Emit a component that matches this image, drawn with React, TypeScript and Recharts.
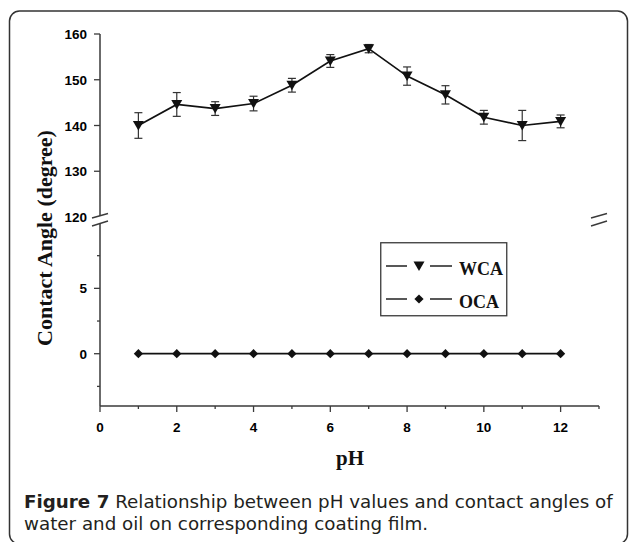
import React from "react";
import { LineChart, Line, XAxis, YAxis, ErrorBar, Legend } from "recharts";

// pH 1..12, water contact angle (with error) and oil contact angle
const PH = [1, 2, 3, 4, 5, 6, 7, 8, 9, 10, 11, 12];
const WCA = [140, 144.6, 143.7, 144.8, 148.8, 154.1, 156.8, 150.8, 146.7, 141.8, 140, 140.9];
const WCA_ERR = [2.8, 2.6, 1.5, 1.6, 1.5, 1.4, 0.9, 2.0, 2.0, 1.5, 3.3, 1.4];
const OCA = [0, 0, 0, 0, 0, 0, 0, 0, 0, 0, 0, 0];

const X_TICKS = [0, 1, 2, 3, 4, 5, 6, 7, 8, 9, 10, 11, 12, 13];
const UPPER_TICKS = [120, 125, 130, 135, 140, 145, 150, 155, 160];
const LOWER_TICKS = [-2.5, 0, 2.5, 5, 7.5];

const SERIES = [
  { key: "wca", name: "WCA", shape: "tri" },
  { key: "oca", name: "OCA", shape: "diamond" },
];

const upperData = PH.map((ph, i) => ({ ph, wca: WCA[i], err: WCA_ERR[i] }));
const lowerData = PH.map((ph, i) => ({ ph, oca: OCA[i] }));

const INK = "#111";
const FRAME = "#3a3a3a";
const TICK_FONT = "'Liberation Sans', Arial, sans-serif";
const SERIF = "'Liberation Serif', 'Times New Roman', serif";

function Marker({ cx, cy, shape }) {
  if (cx == null || cy == null) return null;
  if (shape === "tri") {
    return <polygon points={`${cx - 5.5},${cy - 4.5} ${cx + 5.5},${cy - 4.5} ${cx},${cy + 5}`} fill={INK} />;
  }
  return <polygon points={`${cx},${cy - 4.6} ${cx + 4.6},${cy} ${cx},${cy + 4.6} ${cx - 4.6},${cy}`} fill={INK} />;
}

function YTick({ x, y, payload, step, skip }) {
  const v = payload.value;
  const major = Math.abs(v % step) < 1e-9;
  return (
    <g>
      {v !== skip && <line x1={x - (major ? 6 : 3)} x2={x} y1={y} y2={y} stroke={FRAME} strokeWidth={1.3} />}
      {major && (
        <text x={x - 13} y={y + 5} textAnchor="end" fontFamily={TICK_FONT} fontWeight="bold" fontSize={13.5} fill="#000">
          {v}
        </text>
      )}
    </g>
  );
}

function XTick({ x, y, payload }) {
  const v = payload.value;
  const major = v % 2 === 0;
  return (
    <g>
      <line x1={x} x2={x} y1={y} y2={y + (major ? 6 : 3)} stroke={FRAME} strokeWidth={1.3} />
      {major && (
        <text x={x} y={y + 26} textAnchor="middle" fontFamily={TICK_FONT} fontWeight="bold" fontSize={13.5} fill="#000">
          {v}
        </text>
      )}
    </g>
  );
}

function LegendBox() {
  return (
    <svg width={128} height={75}>
      <rect x={0.75} y={0.75} width={126} height={73} fill="#fff" stroke={FRAME} strokeWidth={1.3} />
      {SERIES.map((s, i) => {
        const ly = 24 + i * 33;
        return (
          <g key={s.key}>
            <line x1={6} x2={27} y1={ly} y2={ly} stroke={INK} strokeWidth={1.4} />
            <line x1={50} x2={72} y1={ly} y2={ly} stroke={INK} strokeWidth={1.4} />
            <Marker cx={39} cy={ly} shape={s.shape} />
            <text x={79} y={ly + 9} fontFamily={SERIF} fontWeight="bold" fontSize={18} fill="#111">
              {s.name}
            </text>
          </g>
        );
      })}
    </svg>
  );
}

const axisLine = { stroke: FRAME, strokeWidth: 1.5 };

export default function App() {
  return (
    <div style={{ position: "absolute", left: 0, top: 0, width: 629, height: 542, background: "#fff", overflow: "hidden" }}>
      <div style={{ position: "absolute", left: 0, top: 0 }}>
        <LineChart width={629} height={240} data={upperData} margin={{ top: 34, right: 30, bottom: 23, left: 40 }}>
          <XAxis dataKey="ph" type="number" domain={[0, 13]} orientation="top" height={0} ticks={X_TICKS} tick={false} tickLine={false} axisLine={axisLine} />
          <YAxis
            type="number"
            domain={[120, 160]}
            ticks={UPPER_TICKS}
            width={60}
            tickSize={0}
            tickMargin={0}
            tickLine={false}
            axisLine={axisLine}
            tick={(p) => <YTick {...p} step={10} skip={120} />}
          />
          <YAxis yAxisId="r" orientation="right" width={0} domain={[120, 160]} tick={false} tickLine={false} axisLine={axisLine} />
          <Line
            dataKey="wca"
            stroke={INK}
            strokeWidth={1.7}
            isAnimationActive={false}
            dot={(p) => <Marker key={`w${p.index}`} cx={p.cx} cy={p.cy} shape="tri" />}
          >
            <ErrorBar dataKey="err" direction="y" width={4} stroke="#333" strokeWidth={1.2} isAnimationActive={false} />
          </Line>
        </LineChart>
      </div>
      <div style={{ position: "absolute", left: 0, top: 0 }}>
        <LineChart width={629} height={542} data={lowerData} margin={{ top: 223, right: 30, bottom: 106, left: 40 }}>
          <XAxis
            dataKey="ph"
            type="number"
            domain={[0, 13]}
            ticks={X_TICKS}
            height={30}
            tickSize={0}
            tickMargin={0}
            tickLine={false}
            axisLine={axisLine}
            tick={(p) => <XTick {...p} />}
          />
          <YAxis
            type="number"
            domain={[-4, 10]}
            ticks={LOWER_TICKS}
            width={60}
            tickSize={0}
            tickMargin={0}
            tickLine={false}
            axisLine={axisLine}
            tick={(p) => <YTick {...p} step={5} skip={null} />}
          />
          <YAxis yAxisId="r" orientation="right" width={0} domain={[-4, 10]} tick={false} tickLine={false} axisLine={axisLine} />
          <Legend
            layout="horizontal"
            verticalAlign="middle"
            align="center"
            wrapperStyle={{ left: 380, top: 242, width: 128, height: 75 }}
            content={() => <LegendBox />}
          />
          <Line
            dataKey="oca"
            stroke={INK}
            strokeWidth={1.7}
            isAnimationActive={false}
            dot={(p) => <Marker key={`o${p.index}`} cx={p.cx} cy={p.cy} shape="diamond" />}
          />
        </LineChart>
      </div>
      <svg width={629} height={542} style={{ position: "absolute", left: 0, top: 0, pointerEvents: "none" }}>
        <rect x={9.5} y={11} width={618} height={533} rx={10} fill="none" stroke="#333" strokeWidth={1.5} />
        {[100, 599].map((ax) => (
          <g key={ax}>
            <polygon points={`${ax - 8},${218} ${ax + 8},${213.5} ${ax + 8},${221} ${ax - 8},${226}`} fill="#fff" />
            <line x1={ax - 8} y1={218} x2={ax + 8} y2={213.5} stroke={FRAME} strokeWidth={1.4} />
            <line x1={ax - 8} y1={226} x2={ax + 8} y2={221} stroke={FRAME} strokeWidth={1.4} />
          </g>
        ))}
        <text
          transform="translate(52, 238) rotate(-90)"
          textAnchor="middle"
          fontFamily={SERIF}
          fontWeight="bold"
          fontSize={22}
          fill="#111"
        >
          Contact Angle (degree)
        </text>
        <text x={350} y={465} textAnchor="middle" fontFamily={SERIF} fontWeight="bold" fontSize={21} fill="#111">
          pH
        </text>
      </svg>
      <div
        style={{
          position: "absolute",
          left: 24,
          top: 491,
          fontFamily: "'DejaVu Sans', sans-serif",
          fontSize: 18.3,
          lineHeight: "22px",
          color: "#231f20",
          whiteSpace: "nowrap",
        }}
      >
        <b>Figure 7</b> Relationship between pH values and contact angles of
        <br />
        water and oil on corresponding coating film.
      </div>
    </div>
  );
}
